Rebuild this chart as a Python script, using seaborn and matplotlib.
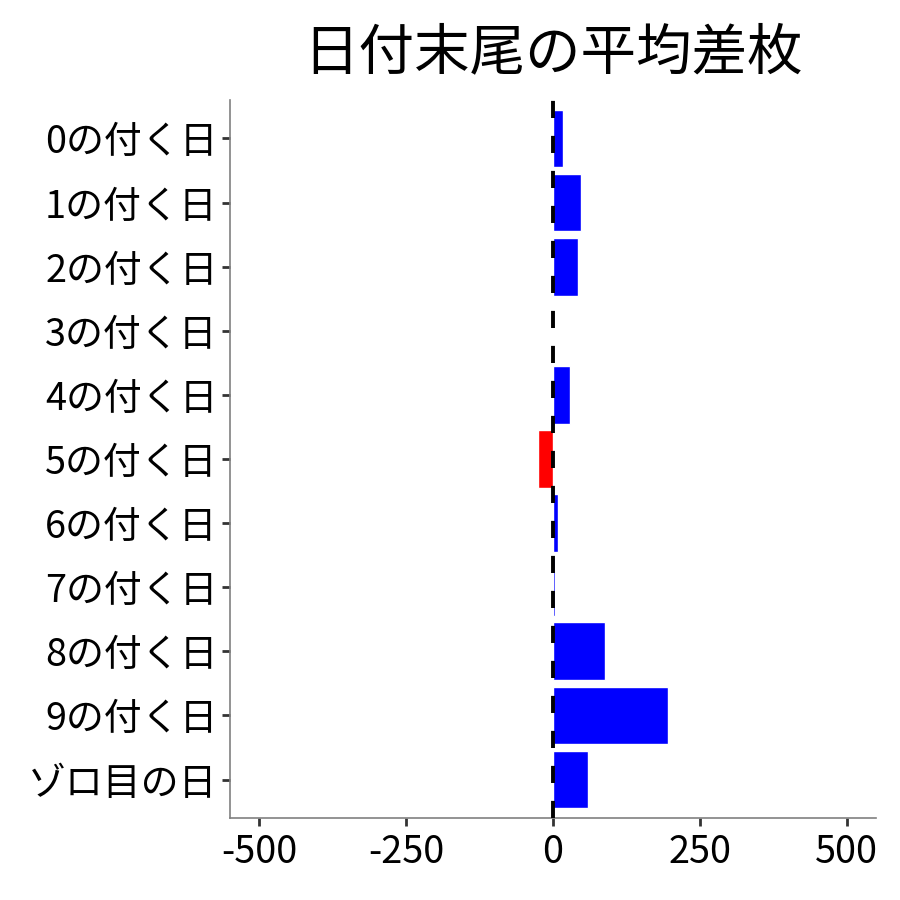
import numpy as np
import pandas as pd
import matplotlib
matplotlib.use("Agg")
import matplotlib.pyplot as plt
import seaborn as sns

# 日付末尾ごとの平均差枚
labels = ['0の付く日', '1の付く日', '2の付く日', '3の付く日', '4の付く日',
          '5の付く日', '6の付く日', '7の付く日', '8の付く日', '9の付く日', 'ゾロ目の日']
values = [17, 47, 43, 0, 29, -26, 9, 3, 88, 196, 60]
xticks = [-500, -250, 0, 250, 500]

sns.set_style("white")
plt.rcParams['font.family'] = ['Noto Sans CJK JP', 'DejaVu Sans']
plt.rcParams['axes.unicode_minus'] = False

df = pd.DataFrame({'label': labels, 'value': values})
colors = ['blue' if v >= 0 else 'red' for v in values]

fig = plt.figure(figsize=(9, 9), dpi=100)
ax = fig.add_axes([0.2556, 0.0911, 0.7177, 0.7978])

sns.barplot(data=df, x='value', y='label', hue='label', palette=colors,
            width=0.9, legend=False, saturation=1, ax=ax, orient='h')
ax.axvline(0, color='black', lw=2.8, linestyle=(0, (4.4, 4.6)), zorder=5)

ax.set_xlim(-550, 550)
ax.set_ylim(10.6, -0.6)
ax.set_xticks(xticks)
ax.set_xticklabels([str(t) for t in xticks])
ax.set_xlabel('')
ax.set_ylabel('')

for s in ['top', 'right']:
    ax.spines[s].set_visible(False)
for s in ['left', 'bottom']:
    ax.spines[s].set_color('#808080')
    ax.spines[s].set_linewidth(1.2)

ax.tick_params(axis='both', which='major', length=6, width=2, color='#333333',
               labelsize=27.3, labelcolor='black', pad=3, direction='out')
ax.tick_params(axis='x', pad=5)
ax.tick_params(left=True, bottom=True)

ax.set_title('日付末尾の平均差枚', fontsize=40, pad=22, color='black')

fig.savefig('out.png', dpi=100)
